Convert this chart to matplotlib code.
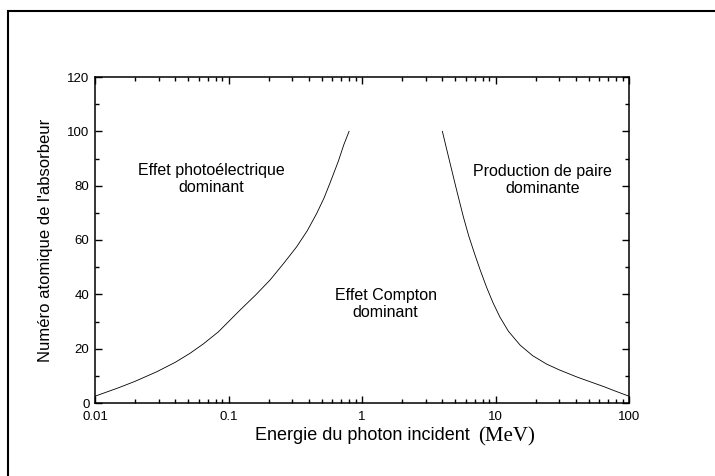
import matplotlib.pyplot as plt
from matplotlib.patches import Rectangle
from matplotlib.ticker import LogLocator, MultipleLocator, FixedFormatter, FixedLocator

plt.rcParams['font.family'] = ['Liberation Sans', 'DejaVu Sans']

# photoelectric / Compton boundary
E_photo = [0.01, 0.015, 0.02, 0.029, 0.04, 0.0515, 0.065, 0.084, 0.122, 0.16,
           0.205, 0.26, 0.324, 0.39, 0.458, 0.52, 0.575, 0.665, 0.73, 0.80]
Z_photo = [2.5, 5.6, 8.0, 11.5, 15.0, 18.3, 21.8, 26.2, 34.2, 39.8,
           45.3, 51.5, 57.5, 63.5, 69.8, 75.5, 80.9, 89.0, 95.0, 100]

# Compton / pair production boundary
E_pair = [4.0, 4.25, 4.56, 5.1, 5.74, 6.3, 7.02, 7.7, 8.59, 9.6, 10.8,
          12.5, 15.3, 19, 24.2, 30, 40.6, 50, 65, 75, 100]
Z_pair = [100, 94.6, 88.4, 78.6, 68.6, 61.5, 54.5, 48.8, 42.5, 36.8, 31.6,
          26.4, 21.3, 17.4, 14.3, 12.2, 9.6, 8.0, 6.0, 4.8, 2.5]

xticks = [0.01, 0.1, 1, 10, 100]
xticklabels = ["0.01", "0.1", "1", "10", "100"]

fig = plt.figure(figsize=(7.15, 4.76), dpi=100)
ax = fig.add_axes([95 / 715, 1 - 403 / 476, 534 / 715, 326 / 476])

ax.plot(E_photo, Z_photo, color='black', lw=0.6)
ax.plot(E_pair, Z_pair, color='black', lw=0.6)

ax.set_xscale('log')
ax.set_xlim(0.01, 100)
ax.set_ylim(0, 120)
ax.xaxis.set_major_locator(FixedLocator(xticks))
ax.xaxis.set_major_formatter(FixedFormatter(xticklabels))
ax.xaxis.set_minor_locator(LogLocator(base=10, subs=range(2, 10)))
ax.yaxis.set_major_locator(MultipleLocator(20))
ax.yaxis.set_minor_locator(MultipleLocator(10))

ax.tick_params(which='both', direction='in', top=True, right=True,
               width=1.0, labelsize=9.5)
ax.tick_params(axis='x', pad=6)
ax.tick_params(axis='y', pad=4)
ax.tick_params(which='major', length=5)
ax.tick_params(which='minor', length=3)
for s in ax.spines.values():
    s.set_linewidth(1.1)

ax.text(0.074, 82.5, "Effet photoélectrique\ndominant", ha='center',
        va='center', fontsize=11.5, linespacing=1.15)
ax.text(1.5, 36.5, "Effet Compton\ndominant", ha='center',
        va='center', fontsize=11.5, linespacing=1.15)
ax.text(22.4, 82, "Production de paire\ndominante", ha='center',
        va='center', fontsize=11.5, linespacing=1.15)

ax.set_ylabel("Numéro atomique de l'absorbeur", fontsize=12, labelpad=10)
fig.text(362 / 715, 1 - 436 / 476, "Energie du photon incident",
         fontsize=13, ha='center', va='center')
fig.text(507 / 715, 1 - 437 / 476, "(MeV)",
         fontsize=15, family='Liberation Serif', ha='center', va='center')

fig.patches.append(Rectangle((8 / 715, -0.1), 1.2, 1 - 11 / 476 + 0.1,
                             transform=fig.transFigure, fill=False,
                             edgecolor='black', lw=1.5))

fig.savefig("out.png", dpi=100)
plt.close(fig)
